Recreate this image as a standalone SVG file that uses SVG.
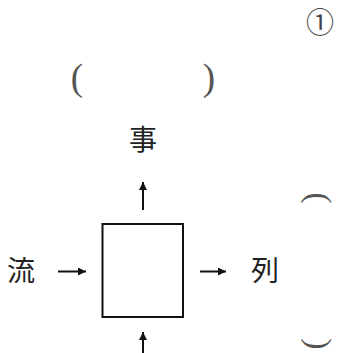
<svg xmlns="http://www.w3.org/2000/svg" width="338" height="353" viewBox="0 0 338 353">
<style>
.t{font-family:"Noto Sans CJK JP","Noto Sans CJK SC",sans-serif;fill:#222;}
.p{font-family:"Liberation Serif",serif;fill:#555;}
.c{stroke:#111;stroke-width:2;fill:none;}
</style>
<defs>
<marker id="ah" markerUnits="userSpaceOnUse" markerWidth="10" markerHeight="10" refX="8" refY="4" orient="auto">
<path d="M0,0 L8,4 L0,8 Z" fill="#111"/>
</marker>
</defs>
<rect width="338" height="353" fill="#fff"/>
<g id="label-1"><text class="t" x="320" y="33" font-size="28" text-anchor="middle" style="fill:#444">①</text></g>
<g id="paren-open"><text class="p" x="77" y="90" font-size="37" text-anchor="middle">(</text></g>
<g id="paren-close"><text class="p" x="209" y="90" font-size="37" text-anchor="middle">)</text></g>
<g id="node-top"><text class="t" x="143" y="150" font-size="28" text-anchor="middle">事</text></g>
<g id="node-left"><text class="t" x="21" y="281" font-size="28" text-anchor="middle">流</text></g>
<g id="node-right"><text class="t" x="265" y="281" font-size="28" text-anchor="middle">列</text></g>
<g id="box"><rect x="102.5" y="224" width="80.5" height="93" fill="none" stroke="#111" stroke-width="2"/></g>
<g id="bracket-top"><text class="p" x="316" y="206" font-size="33" text-anchor="middle" transform="rotate(90 316 198)">(</text></g>
<g id="bracket-bottom"><text class="p" x="316" y="352" font-size="33" text-anchor="middle" transform="rotate(90 316 344)">)</text></g>
<g id="connectors">
<line class="c" x1="143" y1="210" x2="143" y2="182" marker-end="url(#ah)"/>
<line class="c" x1="58" y1="271.5" x2="86" y2="271.5" marker-end="url(#ah)"/>
<line class="c" x1="200" y1="271.5" x2="226" y2="271.5" marker-end="url(#ah)"/>
<line class="c" x1="143" y1="353" x2="143" y2="332" marker-end="url(#ah)"/>
</g>
</svg>
